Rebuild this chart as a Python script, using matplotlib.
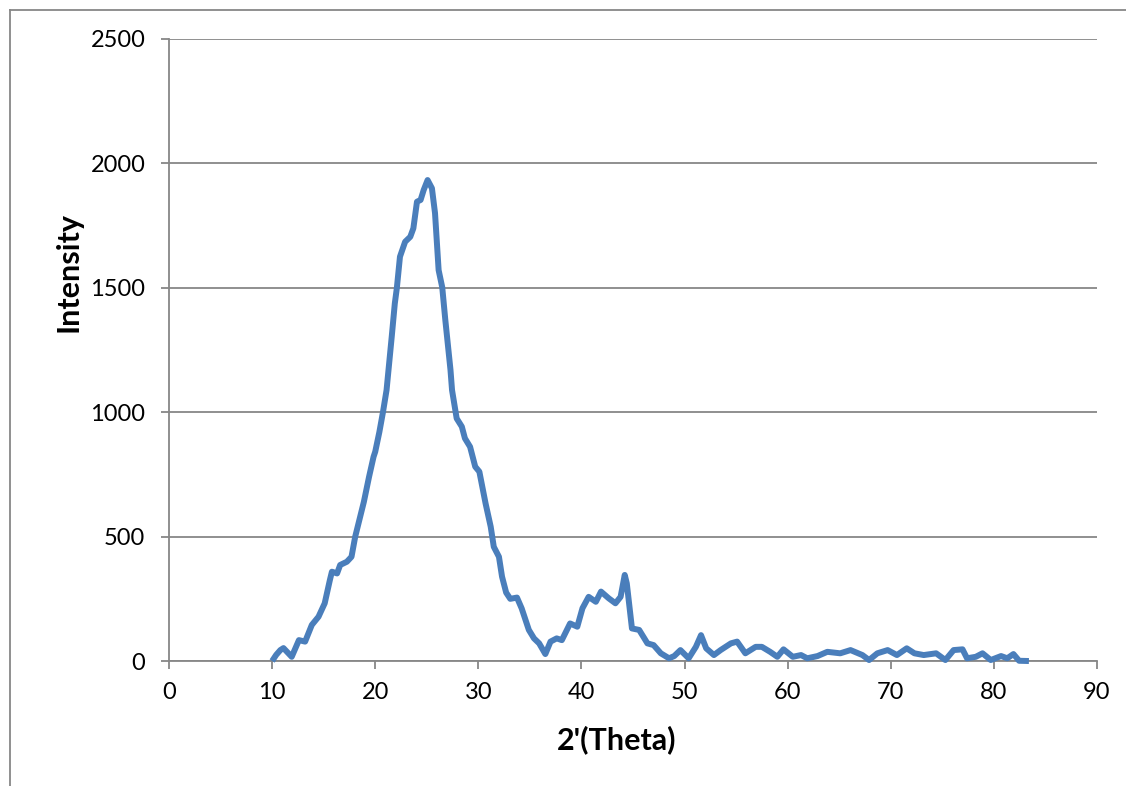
import matplotlib
matplotlib.use("Agg")
import matplotlib.pyplot as plt
from matplotlib.lines import Line2D

# XRD pattern
two_theta = [10.0, 10.4, 10.8, 11.1, 11.6, 11.9, 12.3, 12.6, 13.2, 13.85,
             14.5, 15.1, 15.6, 15.8, 16.3, 16.6, 17.25, 17.7, 18.06, 18.9,
             19.4, 19.84, 20.0, 20.4, 20.75, 21.1, 21.6, 21.9, 22.1, 22.4,
             22.9, 23.4, 23.7, 24.05, 24.4, 24.7, 25.08, 25.5, 25.8, 26.15,
             26.5, 26.8, 27.3, 27.45, 27.8, 27.9, 28.4, 28.7, 29.2, 29.7,
             30.1, 30.7, 31.2, 31.5, 32.0, 32.3, 32.7, 33.1, 33.75, 34.2,
             34.9, 35.4, 35.9, 36.5, 37.0, 37.6, 38.1, 38.9, 39.6, 40.1,
             40.7, 41.4, 41.9, 42.65, 43.3, 43.8, 44.2, 44.4, 44.9, 45.6,
             46.4, 47.0, 47.7, 48.5, 49.0, 49.6, 50.4, 51.1, 51.6, 52.1,
             52.85, 53.5, 54.5, 55.1, 55.9, 56.9, 57.5, 58.3, 59.0, 59.6,
             60.5, 61.3, 61.9, 62.9, 63.85, 65.1, 66.1, 67.25, 67.9, 68.7,
             69.7, 70.6, 71.55, 72.3, 73.2, 74.4, 75.3, 76.1, 76.96, 77.4,
             78.25, 78.9, 79.7, 80.7, 81.3, 81.9, 82.45, 83.4]
intensity = [0, 25, 44, 52, 30, 17, 55, 84, 78, 145,
             178, 232, 325, 359, 352, 386, 399, 419, 500, 640,
             740, 821, 841, 920, 1000, 1089, 1303, 1437, 1500, 1625,
             1685, 1705, 1739, 1846, 1853, 1893, 1933, 1900, 1800, 1571,
             1502, 1370, 1170, 1089, 1000, 975, 942, 895, 861, 781,
             761, 634, 540, 459, 419, 339, 275, 250, 255, 212,
             125, 91, 71, 28, 78, 91, 84, 151, 138, 212,
             258, 238, 279, 252, 232, 258, 346, 312, 131, 125,
             71, 64, 31, 11, 20, 44, 11, 57, 104, 51,
             24, 44, 71, 78, 31, 57, 57, 37, 17, 47,
             17, 24, 11, 20, 37, 31, 44, 24, 4, 31,
             44, 24, 51, 31, 24, 31, 4, 44, 47, 11,
             17, 31, 4, 20, 11, 28, 1, 0]

x_ticks = [0, 10, 20, 30, 40, 50, 60, 70, 80, 90]
y_ticks = [0, 500, 1000, 1500, 2000, 2500]

plt.rcParams['font.family'] = ['Lato', 'DejaVu Sans']

fig = plt.figure(figsize=(11.26, 7.86), dpi=100)
ax = fig.add_axes([0.1501, 0.159, 0.8241, 0.7914])

grey = '#878787'
ax.plot(two_theta, intensity, color='#4A7EBB', lw=4.3,
        solid_joinstyle='round', solid_capstyle='butt', clip_on=False, zorder=3)

ax.set_xlim(0, 90)
ax.set_ylim(0, 2500)
ax.set_xticks(x_ticks)
ax.set_yticks(y_ticks)
ax.grid(axis='y', color=grey, lw=1.3)
ax.set_axisbelow(True)

for side in ['top', 'right']:
    ax.spines[side].set_visible(False)
for side in ['left', 'bottom']:
    ax.spines[side].set_color(grey)
    ax.spines[side].set_linewidth(1.3)

ax.tick_params(axis='both', direction='out', length=6, width=1.3, color=grey,
               labelsize=17, labelcolor='black')
ax.tick_params(axis='y', pad=11)
ax.tick_params(axis='x', pad=9)

ax.set_xlabel("2'(Theta)", fontsize=22, fontweight='bold')
ax.set_ylabel("Intensity", fontsize=22, fontweight='bold')
ax.xaxis.set_label_coords(0.482, -0.103)
ax.yaxis.set_label_coords(-0.093, 0.625)

# outer chart frame (partly cut off in the original)
fig.add_artist(Line2D([10 / 1126, 10 / 1126], [0, 1 - 10 / 786],
                      transform=fig.transFigure, color=grey, lw=1.3))
fig.add_artist(Line2D([10 / 1126, 1], [1 - 10 / 786, 1 - 10 / 786],
                      transform=fig.transFigure, color=grey, lw=1.3))

fig.savefig('out.png', dpi=100)
